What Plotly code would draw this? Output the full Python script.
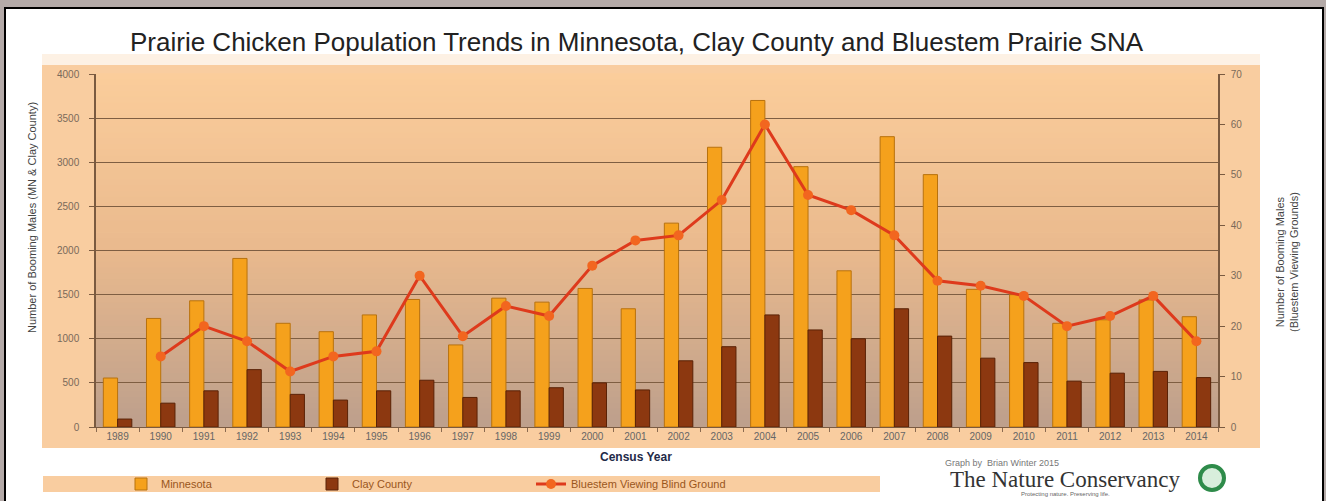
import plotly.graph_objects as go

years = [str(y) for y in range(1989, 2015)]
minnesota = [555, 1230, 1430, 1910, 1175, 1080, 1270, 1445, 930, 1460, 1415,
             1570, 1340, 2310, 3170, 3700, 2950, 1770, 3290, 2860, 1560,
             1500, 1175, 1215, 1440, 1250]
clay_county = [90, 270, 410, 650, 370, 305, 410, 530, 335, 410, 445,
               500, 420, 750, 910, 1270, 1100, 1000, 1340, 1030, 780,
               730, 520, 610, 630, 560]
bluestem = [None, 14, 20, 17, 11, 14, 15, 30, 18, 24, 22,
            32, 37, 38, 45, 60, 46, 43, 38, 29, 28,
            26, 20, 22, 26, 17]

W, H = 1326, 501
L, R, T, B = 96, 1218, 74, 427


def px(x):
    return (x - L) / (R - L)


def py(y):
    return (B - y) / (B - T)


fig = go.Figure()
fig.add_trace(go.Bar(x=years, y=minnesota, name="Minnesota",
                     marker=dict(color="#F5A11C", line=dict(color="#B8720E", width=1)),
                     legend="legend"))
fig.add_trace(go.Bar(x=years, y=clay_county, name="Clay County",
                     marker=dict(color="#8C3810", line=dict(color="#5A2206", width=1)),
                     legend="legend2"))
fig.add_trace(go.Scatter(x=years, y=bluestem, name="Bluestem Viewing Blind Ground",
                         yaxis="y2", mode="lines+markers",
                         line=dict(color="#DE3A1C", width=3),
                         marker=dict(color="#F2661F", size=10),
                         legend="legend3"))

shapes = []
# white framed card
shapes.append(dict(type="rect", xref="paper", yref="paper",
                   x0=px(5), x1=px(1323), y0=py(510), y1=py(8),
                   fillcolor="white", line=dict(color="black", width=2), layer="below"))
# light band behind title bottom
shapes.append(dict(type="rect", xref="paper", yref="paper",
                   x0=px(42), x1=px(1260), y0=py(65), y1=py(54),
                   fillcolor="#FDF1E4", line=dict(width=0), layer="below"))
# peach chart area
shapes.append(dict(type="rect", xref="paper", yref="paper",
                   x0=px(42), x1=px(1260), y0=py(448), y1=py(65),
                   fillcolor="#F9CDA0", line=dict(width=0), layer="below"))
# gradient plot background
top = (251, 205, 155)
mid = (234, 186, 142)
bot = (190, 160, 140)
n = 60
for i in range(n):
    t = i / (n - 1)
    if t < 0.5:
        u = t / 0.5
        c = tuple(int(top[k] + (mid[k] - top[k]) * u) for k in range(3))
    else:
        u = (t - 0.5) / 0.5
        c = tuple(int(mid[k] + (bot[k] - mid[k]) * u) for k in range(3))
    y1 = 1 - i / n
    y0 = 1 - (i + 1) / n
    shapes.append(dict(type="rect", xref="paper", yref="paper",
                       x0=0, x1=1, y0=y0, y1=y1 + 0.002,
                       fillcolor="rgb(%d,%d,%d)" % c, line=dict(width=0), layer="below"))
# legend bar
shapes.append(dict(type="rect", xref="paper", yref="paper",
                   x0=px(43), x1=px(880), y0=py(492), y1=py(476),
                   fillcolor="#F9CDA0", line=dict(width=0), layer="below"))
# logo
shapes.append(dict(type="circle", xref="paper", yref="paper",
                   x0=px(1200), x1=px(1224), y0=py(490), y1=py(466),
                   fillcolor="#D8EEDC", line=dict(color="#2E8B4A", width=4), layer="below"))

annotations = [
    dict(text="Prairie Chicken Population Trends in Minnesota, Clay County and Bluestem Prairie SNA",
         x=px(637), y=py(42), xref="paper", yref="paper", showarrow=False,
         font=dict(family="Liberation Sans, Arial", size=26, color="#222222"),
         xanchor="center", yanchor="middle"),
    dict(text="Number of Booming Males (MN & Clay County)",
         x=px(32), y=py(218), xref="paper", yref="paper", showarrow=False, textangle=-90,
         font=dict(family="Liberation Sans, Arial", size=11, color="#444444"),
         xanchor="center", yanchor="middle"),
    dict(text="Number of Booming Males<br>(Bluestem Viewing Grounds)",
         x=px(1287), y=py(262), xref="paper", yref="paper", showarrow=False, textangle=-90,
         font=dict(family="Liberation Sans, Arial", size=11, color="#444444"),
         xanchor="center", yanchor="middle"),
    dict(text="<b>Census Year</b>",
         x=px(636), y=py(457), xref="paper", yref="paper", showarrow=False,
         font=dict(family="Liberation Sans, Arial", size=12, color="#1F2A48"),
         xanchor="center", yanchor="middle"),
    dict(text="Graph by  Brian Winter 2015",
         x=px(943), y=py(463), xref="paper", yref="paper", showarrow=False,
         font=dict(family="Liberation Sans, Arial", size=9, color="#777777"),
         xanchor="left", yanchor="middle"),
    dict(text="The Nature Conservancy",
         x=px(1065), y=py(479), xref="paper", yref="paper", showarrow=False,
         font=dict(family="Liberation Serif, Times New Roman", size=23, color="#333333"),
         xanchor="center", yanchor="middle"),
    dict(text="Protecting nature. Preserving life.",
         x=px(1065), y=py(494), xref="paper", yref="paper", showarrow=False,
         font=dict(family="Liberation Sans, Arial", size=6, color="#666666"),
         xanchor="center", yanchor="middle"),
]

legend_font = dict(family="Liberation Sans, Arial", size=11, color="#9A561C")
leg_common = dict(orientation="h", bgcolor="rgba(0,0,0,0)", font=legend_font,
                  yanchor="middle", xanchor="left", y=py(484))

fig.update_layout(
    width=W, height=H,
    margin=dict(l=L, r=W - R, t=T, b=H - B, autoexpand=False),
    paper_bgcolor="#B4AAA8",
    plot_bgcolor="rgba(0,0,0,0)",
    barmode="group", bargap=0.34, bargroupgap=0.0,
    showlegend=True,
    legend=dict(x=px(121), **leg_common),
    legend2=dict(x=px(312), **leg_common),
    legend3=dict(x=px(531), **leg_common),
    shapes=shapes,
    annotations=annotations,
    xaxis=dict(type="category", range=[-0.5, 25.5], tickson="boundaries", ticks="outside",
               ticklen=4, tickcolor="#8A6A50", showline=True, linecolor="#7A5A40", linewidth=1,
               showgrid=False, automargin=False,
               tickfont=dict(family="Liberation Sans, Arial", size=10, color="#666666")),
    yaxis=dict(range=[0, 4000], dtick=500, ticks="outside", ticklen=5, tickcolor="#7A5A40",
               showline=True, linecolor="#7A5A40", linewidth=1.5, automargin=False,
               showgrid=True, gridcolor="#7E5E42", gridwidth=1.2, zeroline=False,
               ticklabelstandoff=8,
               tickfont=dict(family="Liberation Sans, Arial", size=10, color="#7A6A5A")),
    yaxis2=dict(range=[0, 70], dtick=10, overlaying="y", side="right", ticks="outside",
                ticklen=5, tickcolor="#7A5A40", showline=True, linecolor="#7A5A40",
                linewidth=1.5, showgrid=False, zeroline=False, ticklabelstandoff=4,
                automargin=False,
                tickfont=dict(family="Liberation Sans, Arial", size=10, color="#7A6A5A")),
)

fig.write_html("out.html", config={"displayModeBar": False},
               post_script="document.body.style.margin='0';document.body.style.overflow='hidden';")
